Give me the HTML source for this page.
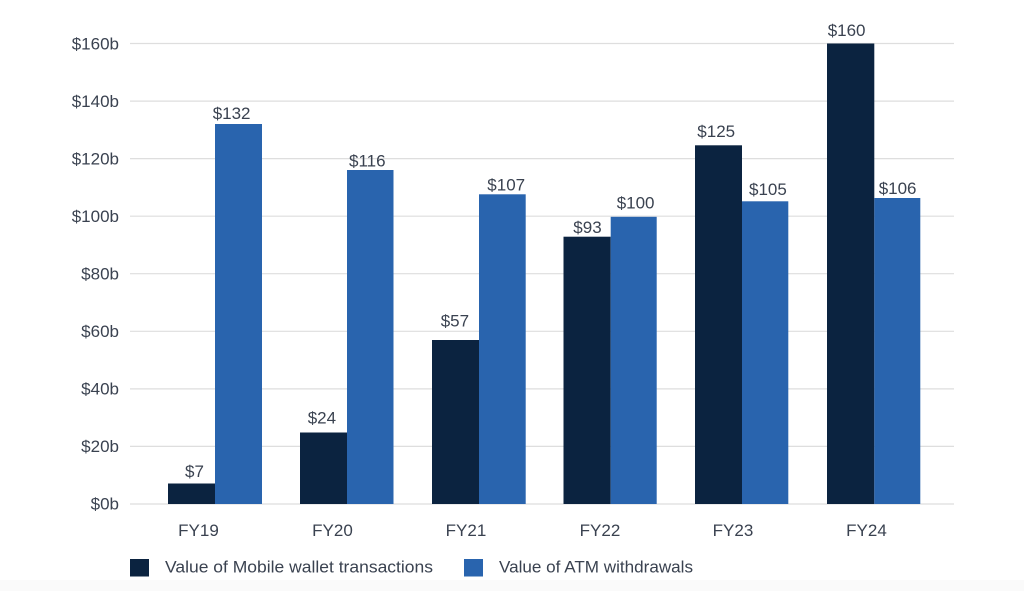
<!DOCTYPE html>
<html><head><meta charset="utf-8"><style>
html,body{margin:0;padding:0;background:#fff;}
svg{display:block;}
text{font-family:"Liberation Sans",Arial,sans-serif;fill:#3a4250;font-size:17px;}
</style></head><body>
<svg width="1024" height="591" viewBox="0 0 1024 591" xmlns="http://www.w3.org/2000/svg">
<rect x="0" y="0" width="1024" height="591" fill="#fff"/>
<rect x="0" y="580" width="1024" height="11" fill="#fafafa"/>
<g stroke="#dedede" stroke-width="1.2">
<line x1="130" x2="954" y1="43.5" y2="43.5"/>
<line x1="130" x2="954" y1="101.1" y2="101.1"/>
<line x1="130" x2="954" y1="158.6" y2="158.6"/>
<line x1="130" x2="954" y1="216.2" y2="216.2"/>
<line x1="130" x2="954" y1="273.7" y2="273.7"/>
<line x1="130" x2="954" y1="331.3" y2="331.3"/>
<line x1="130" x2="954" y1="388.9" y2="388.9"/>
<line x1="130" x2="954" y1="446.4" y2="446.4"/>
<line x1="130" x2="954" y1="504" y2="504"/>
</g>
<g text-anchor="end">
<text x="119" y="49.3">$160b</text>
<text x="119" y="106.8">$140b</text>
<text x="119" y="164.3">$120b</text>
<text x="119" y="221.9">$100b</text>
<text x="119" y="279.4">$80b</text>
<text x="119" y="337">$60b</text>
<text x="119" y="394.6">$40b</text>
<text x="119" y="452">$20b</text>
<text x="119" y="509.6">$0b</text>
</g>
<g fill="#0b2340">
<rect x="168" y="483.5" width="47" height="20.5"/>
<rect x="300" y="432.5" width="47" height="71.5"/>
<rect x="432" y="340" width="47" height="164"/>
<rect x="563.5" y="236.7" width="47.2" height="267.3"/>
<rect x="695" y="145.3" width="47" height="358.7"/>
<rect x="827" y="43.5" width="47.3" height="460.5"/>
</g>
<g fill="#2964ae">
<rect x="215" y="124" width="47" height="380"/>
<rect x="347" y="170" width="46.5" height="334"/>
<rect x="479" y="194.3" width="46.7" height="309.7"/>
<rect x="610.7" y="216.8" width="46" height="287.2"/>
<rect x="742" y="201.3" width="46.3" height="302.7"/>
<rect x="874.3" y="198" width="46" height="306"/>
</g>
<g>
<text x="185" y="477">$7</text>
<text x="212.7" y="119">$132</text>
<text x="307.7" y="423.3">$24</text>
<text x="349" y="166.5">$116</text>
<text x="440.7" y="326.7">$57</text>
<text x="487.3" y="190.7">$107</text>
<text x="573.3" y="233">$93</text>
<text x="616.7" y="208.5">$100</text>
<text x="697.3" y="137">$125</text>
<text x="749" y="195">$105</text>
<text x="827.7" y="36">$160</text>
<text x="878.7" y="194">$106</text>
</g>
<g text-anchor="middle">
<text x="198.5" y="536">FY19</text>
<text x="332.5" y="536">FY20</text>
<text x="466" y="536">FY21</text>
<text x="600" y="536">FY22</text>
<text x="733" y="536">FY23</text>
<text x="866.5" y="536">FY24</text>
</g>
<rect x="130" y="559" width="19" height="17.5" fill="#0b2340"/>
<text x="165" y="572.7" textLength="268" lengthAdjust="spacingAndGlyphs">Value of Mobile wallet transactions</text>
<rect x="464" y="559" width="19" height="17.5" fill="#2964ae"/>
<text x="499" y="572.7" textLength="194" lengthAdjust="spacingAndGlyphs">Value of ATM withdrawals</text>
</svg>
</body></html>
